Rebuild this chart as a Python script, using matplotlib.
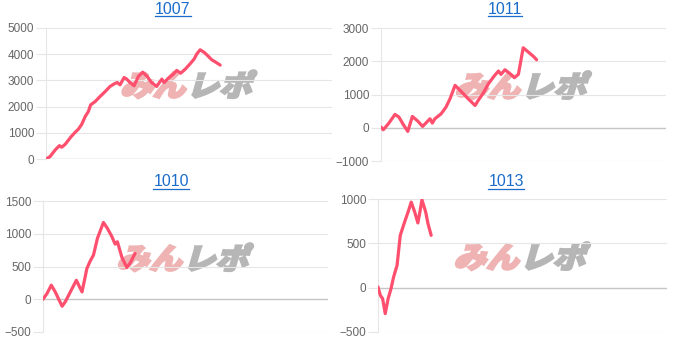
import matplotlib
matplotlib.use("Agg")
import matplotlib.pyplot as plt
import matplotlib.transforms as mtransforms
from matplotlib.textpath import TextPath
from matplotlib.patches import PathPatch
from matplotlib.font_manager import FontProperties
from matplotlib.lines import Line2D

# machine numbers
titles = ["1007", "1011", "1010", "1013"]

# games / balance
x_1007 = [0, 140, 320, 470, 550, 670, 880, 1020, 1130, 1250, 1370, 1480, 1560, 1720, 1890,
          2070, 2240, 2390, 2490, 2590, 2730, 2820, 2940, 3080, 3230, 3380, 3520, 3690, 3870,
          4050, 4130, 4280, 4460, 4570, 4710, 4870, 5040, 5180, 5270, 5390, 5530, 5680, 5790,
          5950, 6090]
y_1007 = [0, 90, 345, 510, 450, 560, 855, 1020, 1135, 1325, 1620, 1810, 2065, 2195, 2385,
          2575, 2770, 2870, 2920, 2830, 3110, 3050, 2920, 2795, 3150, 3315, 3175, 2920, 2770,
          3050, 2920, 3085, 3250, 3380, 3275, 3430, 3635, 3815, 4005, 4170, 4070, 3915, 3790,
          3685, 3585]

x_1011 = [0, 80, 260, 490, 630, 780, 940, 1100, 1290, 1460, 1720, 1800, 1890, 2110, 2280,
          2420, 2600, 2830, 3060, 3300, 3410, 3590, 3770, 3980, 4120, 4210, 4350, 4530, 4680,
          4820, 4990, 5170, 5350, 5460]
y_1011 = [20, -60, 120, 400, 320, 100, -110, 340, 200, 40, 270, 140, 270, 420, 620,
          870, 1275, 1075, 870, 670, 820, 1045, 1325, 1565, 1705, 1605, 1745, 1625, 1505,
          1605, 2405, 2275, 2145, 2045]

x_1010 = [0, 140, 290, 430, 540, 670, 780, 960, 1170, 1280, 1370, 1540, 1660, 1770, 1910,
          2120, 2260, 2420, 2530, 2610, 2770, 2940, 3060, 3230]
y_1010 = [0, 87, 215, 112, 10, -107, -40, 112, 290, 190, 112, 470, 587, 673, 930,
          1173, 1082, 954, 842, 878, 638, 485, 556, 699]

x_1013 = [0, 80, 160, 250, 350, 450, 540, 660, 770, 920, 1040, 1150, 1270, 1380, 1460,
          1520, 1650, 1730, 1840]
y_1013 = [8, -86, -124, -293, -124, -11, 120, 252, 590, 740, 853, 965, 853, 730, 872,
          992, 853, 722, 590]

ticks_1007 = [0, 1000, 2000, 3000, 4000, 5000]
ticks_1011 = [-1000, 0, 1000, 2000, 3000]
ticks_1010 = [-500, 0, 500, 1000, 1500]
ticks_1013 = [-500, 0, 500, 1000]

series = [(x_1007, y_1007, ticks_1007), (x_1011, y_1011, ticks_1011),
          (x_1010, y_1010, ticks_1010), (x_1013, y_1013, ticks_1013)]

W, H = 675, 342
# axes boxes in pixels: left, right, top, bottom
boxes = [(46, 332, 28, 159), (381, 666, 28, 161), (43, 328, 201, 332), (378, 667, 199, 332)]
# title centres in pixels
title_pos = [(173, 9), (505, 9), (171, 182), (506, 182)]

LINE = "#ff4f6e"
GRID = "#e6e6e6"
logo_font = FontProperties(family="Noto Sans CJK JP", weight="heavy")


def add_logo(ax):
    p1 = TextPath((0, 0), "みん", size=32, prop=logo_font)
    e1 = p1.get_extents()
    p2 = TextPath((e1.x1 + 2, 0), "レポ", size=32, prop=logo_font)
    e2 = p2.get_extents()
    cx = (e1.x0 + e2.x1) / 2
    cy = (min(e1.y0, e2.y0) + max(e1.y1, e2.y1)) / 2
    base = (mtransforms.Affine2D().translate(-cx, -cy).scale(1.02, 0.92).skew_deg(16, 0)
            + mtransforms.ScaledTranslation(0.5, 0.57, ax.transAxes))
    ax.add_artist(PathPatch(p1, fc="#efb3b3", ec="#efb3b3", lw=1.6, transform=base, zorder=1))
    ax.add_artist(PathPatch(p2, fc="#b6b6b6", ec="#b6b6b6", lw=1.6, transform=base, zorder=1))


fig = plt.figure(figsize=(W / 100, H / 100), dpi=100)
axes = []
for (xs, ys, ticks), (l, r, t, b) in zip(series, boxes):
    ax = fig.add_axes([l / W, 1 - b / H, (r - l) / W, (b - t) / H])
    add_logo(ax)
    ax.plot(xs, ys, color=LINE, lw=2.3, solid_joinstyle="round", solid_capstyle="round", zorder=3)
    ax.set_xlim(0, 10000)
    ax.set_ylim(ticks[0], ticks[-1])
    ax.set_yticks(ticks)
    ax.set_xticks([])
    ax.yaxis.grid(True, color=GRID, lw=0.8)
    ax.axhline(0, color="#c6c6c6", lw=1.0, zorder=2)
    for s in ["top", "right", "bottom"]:
        ax.spines[s].set_visible(False)
    ax.spines["left"].set_color(GRID)
    ax.tick_params(axis="y", length=7, color=GRID, pad=1.5, labelsize=8.5, labelcolor="#666666")
    for lab in ax.get_yticklabels():
        lab.set_fontfamily("Liberation Sans")
    axes.append(ax)

title_texts = []
for name, (tx, ty) in zip(titles, title_pos):
    t = fig.text(tx / W, 1 - ty / H, name, ha="center", va="center", fontsize=11.5,
                 color="#1a6dcc", family="Liberation Sans")
    title_texts.append(t)

# underline the titles like links
fig.canvas.draw()
renderer = fig.canvas.get_renderer()
for t in title_texts:
    bb = t.get_window_extent(renderer)
    yy = (bb.y0 + 1) / H
    fig.add_artist(Line2D([bb.x0 / W, bb.x1 / W], [yy, yy], color="#1a6dcc", lw=0.9))

fig.savefig("out.png", dpi=100)
